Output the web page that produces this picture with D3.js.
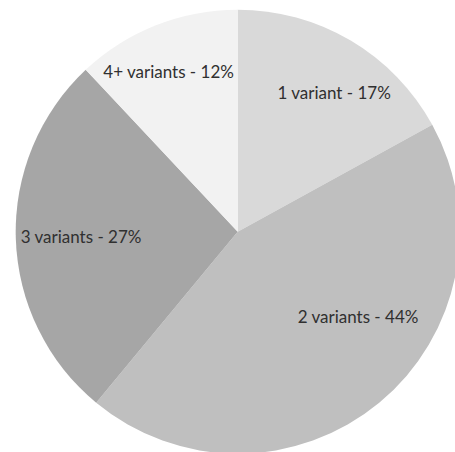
<!DOCTYPE html>
<html>
<head>
<meta charset="utf-8">
<script src="https://cdn.jsdelivr.net/npm/d3@7"></script>
<style>
  html, body { margin: 0; padding: 0; background: #ffffff; }
  svg { display: block; }
</style>
</head>
<body>
<svg id="chart" width="455" height="452"></svg>
<script>
// Share of items by number of variants
const categories = ["1 variant", "2 variants", "3 variants", "4+ variants"];
const shares = [17, 44, 27, 12];
const sliceColors = ["#d9d9d9", "#bfbfbf", "#a6a6a6", "#f2f2f2"];

// Label placement per slice: angular nudge from the slice middle (degrees)
// and distance from the centre as a fraction of the radius
const labelNudgeDeg = [4.2, -15.1, 0.2, -1.8];
const labelRadiusFrac = [0.761, 0.664, 0.706, 0.784];

const width = 455, height = 452;
const cx = 237.7, cy = 231.7, radius = 222;

const svg = d3.select("#chart");
const g = svg.append("g").attr("transform", `translate(${cx},${cy})`);

const data = categories.map((c, i) => ({ category: c, value: shares[i], i }));

const pie = d3.pie().value(d => d.value).sort(null);
const arc = d3.arc().innerRadius(0).outerRadius(radius);
const arcs = pie(data);

g.selectAll("path.slice")
  .data(arcs)
  .join("path")
  .attr("class", "slice")
  .attr("d", arc)
  .attr("fill", d => sliceColors[d.data.i]);

const deg = Math.PI / 180;
g.selectAll("text.label")
  .data(arcs)
  .join("text")
  .attr("class", "label")
  .attr("transform", d => {
    const mid = (d.startAngle + d.endAngle) / 2 + labelNudgeDeg[d.data.i] * deg;
    const r = radius * labelRadiusFrac[d.data.i];
    const p = d3.arc().innerRadius(r).outerRadius(r).startAngle(mid).endAngle(mid).centroid();
    return `translate(${p[0]},${p[1]})`;
  })
  .attr("text-anchor", "middle")
  .attr("dominant-baseline", "central")
  .attr("font-family", "Lato, 'Open Sans', sans-serif")
  .attr("font-size", 17)
  .attr("fill", "#303030")
  .text(d => `${d.data.category} - ${d.data.value}%`);
</script>
</body>
</html>
